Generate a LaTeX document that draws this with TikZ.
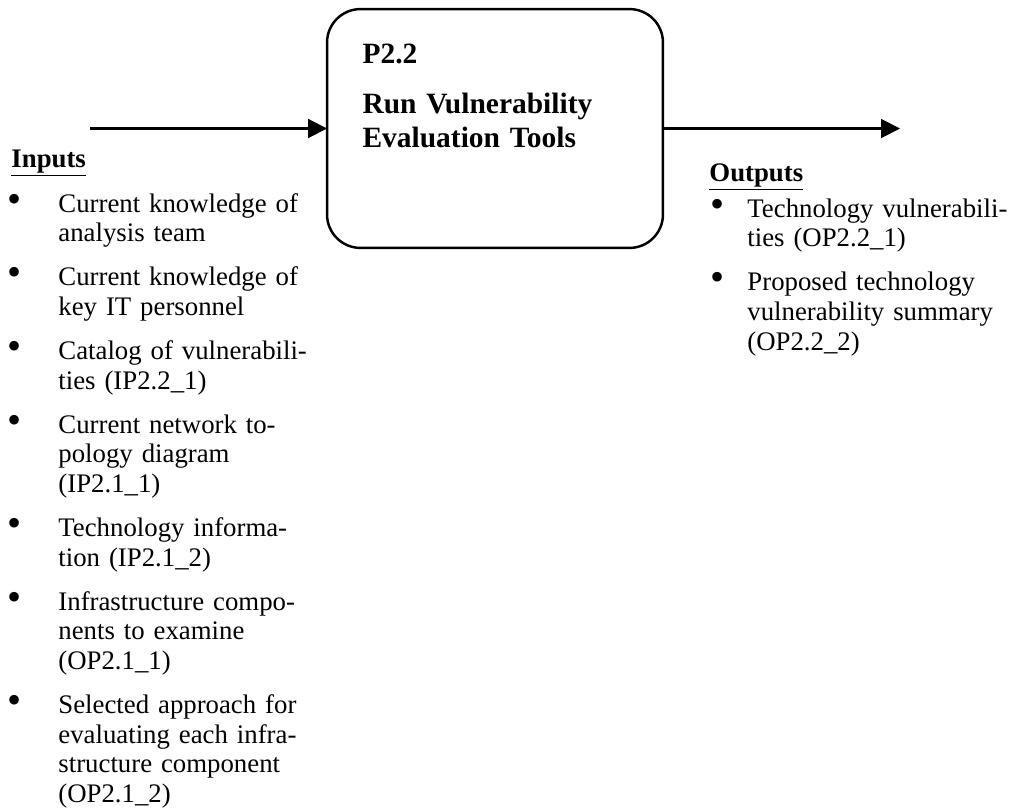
\documentclass[tikz,border=0pt]{standalone}
\usepackage{fontspec}
\setmainfont{Liberation Serif}
\usetikzlibrary{arrows.meta, positioning}

\begin{document}
\begin{tikzpicture}[x=0.448pt, y=-0.448pt,
  flow/.style={line width=0.9pt, -{Triangle[length=8.5pt,width=8.5pt]}},
  procbox/.style={draw, line width=1.1pt, rounded corners=15pt,
    minimum width=150.5pt, minimum height=107pt, inner sep=0pt, outer sep=0pt},
  proctitle/.style={font=\fontsize{13.2}{15.2}\selectfont\bfseries, align=left,
    text width=140pt, inner sep=0pt, execute at begin node=\strut},
  listhead/.style={font=\fontsize{12}{13.3}\selectfont\bfseries,
    anchor=base west, inner sep=0pt},
  entry/.style={font=\fontsize{12}{13.3}\selectfont, align=left,
    text width=125pt, inner sep=0pt,
    execute at begin node=\strut, execute at end node=\strut},
  dot/.style={font=\fontsize{18}{13.3}\selectfont, anchor=north, inner sep=0pt,
    execute at begin node=\strut},
  node distance=6pt
]
  \useasboundingbox (0,0) rectangle (1013,811);

  % Process box
  \node[procbox] (p22) at (495,128.5) {};
  \node[proctitle, anchor=north west] (p22t)
    at ([xshift=15.7pt, yshift=-13.6pt]p22.north west)
    {P2.2\\[7.2pt]Run Vulnerability\\Evaluation Tools};

  % Flow in and out
  \coordinate (src) at (90,128.5);
  \coordinate (dst) at (900,128.5);
  \draw[flow] (src) -- (p22.west);
  \draw[flow] (p22.east) -- (dst);

  % Inputs
  \node[listhead] (inhead) at (11,167) {\underline{Inputs}};
  \node[entry, anchor=north west] (in1) at (58,191)
    {Current knowledge of\\analysis team};
  \node[entry, below=of in1] (in2) {Current knowledge of\\key IT personnel};
  \node[entry, below=of in2] (in3) {Catalog of vulnerabili-\\ties (IP2.2\_1)};
  \node[entry, below=of in3] (in4)
    {Current network to-\\pology diagram\\(IP2.1\_1)};
  \node[entry, below=of in4] (in5) {Technology informa-\\tion (IP2.1\_2)};
  \node[entry, below=of in5] (in6)
    {Infrastructure compo-\\nents to examine\\(OP2.1\_1)};
  \node[entry, below=of in6] (in7)
    {Selected approach for\\evaluating each infra-\\structure component\\(OP2.1\_2)};
  \foreach \n in {1,...,7}
    \node[dot] (inb\n) at ([xshift=-19.3pt]in\n.north west) {\textbullet};

  % Outputs
  \node[listhead] (outhead) at (709,181) {\underline{Outputs}};
  \node[entry, anchor=north west] (out1) at (747,196)
    {Technology vulnerabili-\\ties (OP2.2\_1)};
  \node[entry, below=of out1] (out2)
    {Proposed technology\\vulnerability summary\\(OP2.2\_2)};
  \foreach \n in {1,2}
    \node[dot] (outb\n) at ([xshift=-13pt]out\n.north west) {\textbullet};
\end{tikzpicture}
\end{document}
